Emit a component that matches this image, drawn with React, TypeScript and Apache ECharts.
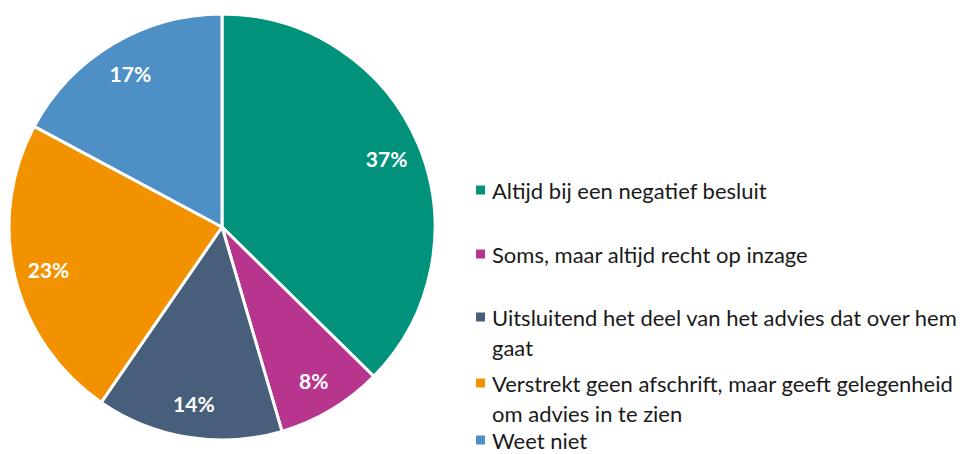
import React, { useEffect, useRef } from "react";
import * as echarts from "echarts";

const categories = [
  "Altijd bij een negatief besluit",
  "Soms, maar altijd recht op inzage",
  "Uitsluitend het deel van het advies dat over hem gaat",
  "Verstrekt geen afschrift, maar geeft gelegenheid om advies in te zien",
  "Weet niet",
];
const values = [37, 8, 14, 23, 17];
const colors = ["#00927a", "#b8358e", "#475f7b", "#f39200", "#4e8fc5"];

// layout
const CENTER: [number, number] = [222, 227];
const RADIUS = 213;
const LABEL_R0 = 138;
const LEGEND_X = 476;
const LEGEND_TEXT_X = 492;
const LEGEND_Y = [190, 254, 317, 383, 440];
const FONT = "Lato, 'Open Sans', sans-serif";

export default function App() {
  const ref = useRef<HTMLDivElement>(null);
  useEffect(() => {
    document.body.style.margin = "0";
    const chart = echarts.init(ref.current!, undefined, { renderer: "svg" });
    const data = categories.map((name, i) => ({
      name,
      value: values[i],
      itemStyle: { color: colors[i] },
    }));
    const legendGraphics: any[] = [];
    categories.forEach((name, i) => {
      const lh = i === categories.length - 1 ? 22 : 30;
      legendGraphics.push({
        type: "rect",
        shape: { x: LEGEND_X, y: LEGEND_Y[i] - 4.5, width: 9, height: 9 },
        style: { fill: colors[i] },
      });
      legendGraphics.push({
        type: "text",
        x: LEGEND_TEXT_X,
        y: LEGEND_Y[i] - lh / 2,
        style: {
          text: name,
          fill: "#1a1a1a",
          font: `22px ${FONT}`,
          lineHeight: lh,
          width: 968 - LEGEND_TEXT_X - 1,
          overflow: "break",
          verticalAlign: "top",
          align: "left",
        },
      });
    });
    chart.setOption({
      animation: false,
      graphic: legendGraphics,
      series: [
        {
          type: "pie",
          center: CENTER,
          radius: [0, RADIUS],
          startAngle: 90,
          clockwise: true,
          data,
          label: { show: false },
          labelLine: { show: false },
          itemStyle: { borderColor: "#ffffff", borderWidth: 3 },
          silent: true,
        },
        {
          type: "pie",
          center: CENTER,
          radius: [LABEL_R0, RADIUS],
          startAngle: 90,
          clockwise: true,
          data: categories.map((name, i) => ({
            name,
            value: values[i],
            itemStyle: { color: "rgba(0,0,0,0)" },
          })),
          label: {
            show: true,
            position: "inside",
            formatter: "{c}%",
            color: "#ffffff",
            fontWeight: "bold",
            fontSize: 21,
            fontFamily: FONT,
          },
          labelLine: { show: false },
          silent: true,
        },
      ],
    });
    return () => chart.dispose();
  }, []);
  return <div ref={ref} style={{ width: 968, height: 454 }} />;
}
